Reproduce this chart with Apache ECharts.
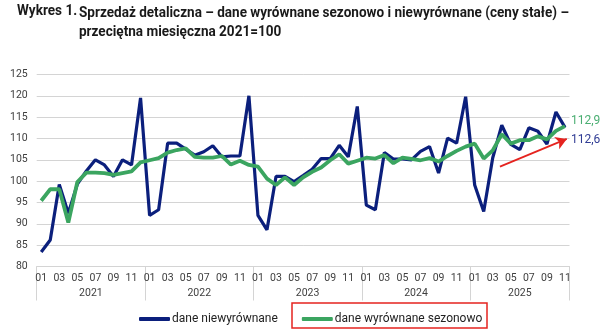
<!DOCTYPE html>
<html>
<head>
<meta charset="utf-8">
<script src="https://cdn.jsdelivr.net/npm/echarts@6/dist/echarts.min.js"></script>
<style>html,body{margin:0;padding:0;background:#fff}#c{width:605px;height:332px}</style>
</head>
<body>
<div id="c"></div>
<script>
const years = ['2021', '2022', '2023', '2024', '2025'];
const monthsPerYear = [12, 12, 12, 12, 11];
const monthLabels = ['01','02','03','04','05','06','07','08','09','10','11','12'];
const unadjusted = [
  83.4, 86.2, 99.2, 92.5, 99.3, 102.4, 105.0, 103.8, 101.1, 105.0, 103.8, 119.5,
  92.0, 93.3, 108.9, 108.9, 107.5, 106.1, 106.9, 108.3, 105.7, 105.9, 105.9, 120.0,
  92.0, 88.6, 101.1, 101.1, 99.9, 101.3, 102.8, 105.3, 105.3, 108.4, 105.7, 117.5,
  94.4, 93.3, 106.7, 105.2, 105.2, 105.0, 107.0, 108.1, 101.9, 110.1, 108.9, 119.8,
  99.1, 92.9, 105.5, 113.1, 108.6, 107.4, 112.5, 111.7, 108.7, 116.2, 112.6
];
const adjusted = [
  95.4, 98.1, 98.1, 90.3, 99.8, 102.0, 102.0, 101.9, 101.5, 101.9, 102.3, 104.4,
  104.9, 105.4, 106.7, 107.3, 107.7, 105.7, 105.5, 105.5, 105.9, 103.9, 104.8, 103.8,
  103.4, 100.6, 99.1, 100.9, 99.1, 100.9, 102.2, 103.2, 104.9, 106.3, 104.1, 104.8,
  105.5, 105.3, 106.1, 104.2, 105.5, 105.2, 104.9, 105.4, 104.6, 105.9, 107.1, 108.1,
  108.8, 105.3, 107.2, 111.0, 108.8, 109.6, 109.6, 110.5, 109.8, 111.8, 112.9
];
const seriesNames = ['dane niewyrównane', 'dane wyrównane sezonowo'];
const titleLead = 'Wykres 1.';
const titleLines = ['Sprzedaż detaliczna – dane wyrównane sezonowo i niewyrównane (ceny stałe) –',
                    'przeciętna miesięczna 2021=100'];
const yTicks = {min: 80, max: 125, interval: 5};
// annotation arrow (in month-position units, value units)
const arrowFrom = [51.3, 103.4];
const arrowTo = [58.7, 109.9];

const categories = [];
const yearStarts = [];
const yearCenters = [];
let idx = 0;
years.forEach((y, k) => {
  yearStarts.push(idx);
  yearCenters.push(idx + monthsPerYear[k] / 2);
  for (let m = 0; m < monthsPerYear[k]; m++) categories.push(monthLabels[m]);
  idx += monthsPerYear[k];
});
yearStarts.push(idx);
const total = idx;

const FONT = "Roboto, 'Noto Sans', sans-serif";
const fmt = v => v.toFixed(1).replace('.', ',');

// condensed look for the title: measure and scale horizontally
const TFONT = "bold 14px Roboto";
const mctx = document.createElement('canvas').getContext('2d');
mctx.font = TFONT;
const titleScale = 490 / mctx.measureText(titleLines[0]).width;

const chart = echarts.init(document.getElementById('c'), null, {renderer: 'canvas'});
chart.setOption({
  animation: false,
  backgroundColor: '#fff',
  grid: {left: 36.7, right: 35.5, top: 74.5, bottom: 65.5, containLabel: false},
  legend: {
    data: seriesNames,
    left: 134, top: 308,
    icon: 'roundRect', itemWidth: 31, itemHeight: 4, itemGap: 24,
    textStyle: {fontFamily: FONT, fontSize: 12, color: '#222', padding: [0, 0, 0, -3]}
  },
  xAxis: [
    {
      type: 'category', data: categories, boundaryGap: true,
      axisLine: {show: true, lineStyle: {color: '#d4d4d4', width: 1}},
      axisTick: {show: false},
      axisLabel: {interval: 1, margin: 6, fontFamily: FONT, fontSize: 10.5, color: '#404040'},
      splitLine: {show: false}
    },
    {
      type: 'value', min: 0, max: total, position: 'bottom',
      axisLine: {show: false},
      splitLine: {show: false},
      axisTick: {show: true, customValues: yearStarts, length: 34, lineStyle: {color: '#d4d4d4', width: 1}},
      axisLabel: {
        customValues: yearCenters, margin: 21, fontFamily: FONT, fontSize: 10.5, color: '#404040',
        formatter: v => years[yearCenters.indexOf(v)] || ''
      }
    }
  ],
  yAxis: {
    type: 'value', min: yTicks.min, max: yTicks.max, interval: yTicks.interval,
    axisLine: {show: false}, axisTick: {show: false},
    axisLabel: {margin: 9, fontFamily: FONT, fontSize: 10.5, color: '#404040'},
    splitLine: {lineStyle: {color: '#d4d4d4', width: 1}}
  },
  series: [
    {
      name: seriesNames[0], type: 'line', data: unadjusted, xAxisIndex: 0,
      symbol: 'none', lineStyle: {color: '#0b1f7c', width: 3.2}, itemStyle: {color: '#0b1f7c'},
      endLabel: {show: true, formatter: p => fmt(p.value), distance: 6, offset: [0, 13],
                 fontFamily: FONT, fontSize: 12, color: '#303c94'}
    },
    {
      name: seriesNames[1], type: 'line', data: adjusted, xAxisIndex: 0,
      symbol: 'none', lineStyle: {color: '#3ba560', width: 3.8}, itemStyle: {color: '#3ba560'},
      endLabel: {show: true, formatter: p => fmt(p.value), distance: 6, offset: [0, -5],
                 fontFamily: FONT, fontSize: 12, color: '#4aae72'}
    },
    {
      name: 'arrow', type: 'line', xAxisIndex: 1, data: [], symbol: 'none',
      markLine: {
        silent: true, symbol: ['none', 'arrow'], symbolSize: [10, 11],
        label: {show: false},
        lineStyle: {color: '#e5231f', width: 1.8, type: 'solid'},
        data: [[{coord: arrowFrom}, {coord: arrowTo}]]
      }
    }
  ],
  graphic: [
    {type: 'text', x: 17, y: 4, scaleX: titleScale,
     style: {text: titleLead, font: TFONT, fill: '#1a1a1a'}},
    {type: 'text', x: 79, y: 4, scaleX: titleScale,
     style: {text: titleLines.join('\n'), font: TFONT, fill: '#1a1a1a', lineHeight: 19}},
    {type: 'rect', shape: {x: 292, y: 303, width: 195, height: 25},
     style: {fill: 'none', stroke: '#e5231f', lineWidth: 1.5}}
  ]
});
</script>
</body>
</html>
